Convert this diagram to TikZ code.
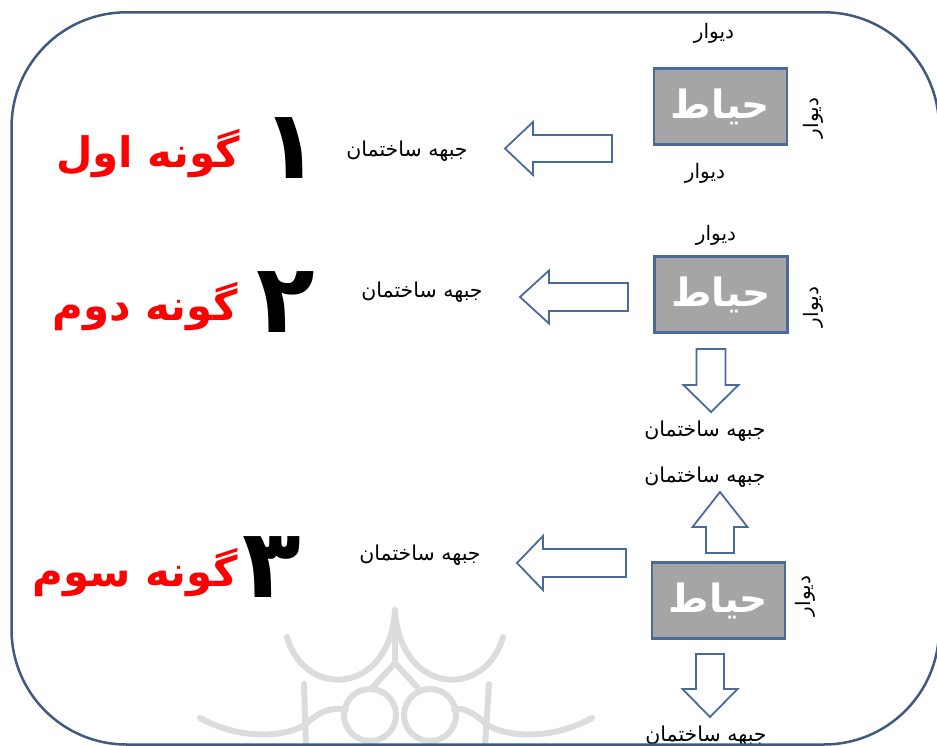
\documentclass[tikz,border=0pt]{standalone}
\usepackage{fontspec}
\setmainfont{DejaVu Sans}
\newfontfamily\fa[Script=Arabic]{DejaVu Sans}
\TeXXeTstate=1
\definecolor{framec}{HTML}{41597F}
\definecolor{edgec}{HTML}{4A6A9B}
\definecolor{yardfill}{HTML}{A5A5A5}
\definecolor{markc}{HTML}{DCDCDC}
\newcommand\rtl[1]{\beginR #1\endR}

\begin{document}
\begin{tikzpicture}[x=1pt,y=-1pt,
  yard/.style={draw=edgec, line width=2.6pt, fill=yardfill, minimum width=133pt,
    minimum height=76pt, inner sep=0pt, text=white,
    font=\fa\bfseries\fontsize{39}{39}\selectfont},
  wall/.style={inner sep=0pt, font=\fa\fontsize{20}{20}\selectfont},
  front/.style={inner sep=0pt, font=\fa\fontsize{20.5}{20.5}\selectfont},
  kind/.style={inner sep=0pt, text=red, font=\fa\bfseries\fontsize{42}{42}\selectfont},
  numeral/.style={inner sep=0pt, font=\fa\bfseries\fontsize{96}{96}\selectfont},
  arrowline/.style={draw=edgec, line width=1.8pt, fill=white, line join=miter},
  markline/.style={draw=markc, line width=6pt, line cap=round},
  pics/blockarrow/.style n args={4}{code={
    % tip at the origin, pointing along +x: length, shaft half width, head half width, head length
    \path[arrowline] (-#1,-#2) -- (-#4,-#2) -- (-#4,-#3) -- (0,0) -- (-#4,#3)
      -- (-#4,#2) -- (-#1,#2) -- cycle;}}]
\useasboundingbox (0,0) rectangle (937,746);

% faint emblem at the bottom
\path[markline] (287,637) .. controls (305,700) and (390,695) .. (395,610);
\path[markline] (503,637) .. controls (485,700) and (400,695) .. (395,610);
\path[markline] (395,612) -- (395,663);
\path[markline] (395,663) -- (372,688);
\path[markline] (395,663) -- (418,688);
\path[markline] (370,715) circle (26);
\path[markline] (430,715) circle (26);
\path[markline] (304,684) -- (306,746);
\path[markline] (489,684) -- (485,746);
\path[markline] (200,718) .. controls (240,740) and (285,738) .. (306,724);
\path[markline] (306,724) .. controls (318,712) and (333,706) .. (346,710);
\path[markline] (592,718) .. controls (552,740) and (507,738) .. (486,724);
\path[markline] (486,724) .. controls (474,712) and (459,706) .. (454,710);

% type 1
\node[yard] (y1) at (720.5,106.5) {\rtl{حیاط}};
\node[wall] (y1n) at (714,33) {\rtl{دیوار}};
\node[wall] (y1s) at (705,173) {\rtl{دیوار}};
\node[wall, rotate=90] (y1e) at (813,118) {\rtl{دیوار}};
\coordinate (a1) at (505,148.5);
\pic[rotate=180] at (a1) {blockarrow={107}{13.5}{26.5}{28}};
\node[front] (f1) at (407,151) {\rtl{جبهه ساختمان}};
\node[numeral] (n1) at (291,148) {۱};
\node[kind] (k1) at (148,154) {\rtl{گونه اول}};

% type 2
\node[yard] (y2) at (721,294.5) {\rtl{حیاط}};
\node[wall] (y2n) at (716,235) {\rtl{دیوار}};
\node[wall, rotate=90] (y2e) at (813,307) {\rtl{دیوار}};
\coordinate (a2) at (520,297);
\pic[rotate=180] at (a2) {blockarrow={108}{14}{26.5}{29}};
\coordinate (d2) at (711,412);
\pic[rotate=-90] at (d2) {blockarrow={63}{14.5}{27.5}{27}};
\node[front] (f2) at (422,292) {\rtl{جبهه ساختمان}};
\node[front] (f2s) at (705,431) {\rtl{جبهه ساختمان}};
\node[numeral] (n2) at (286,302) {۲};
\node[kind] (k2) at (145,307) {\rtl{گونه دوم}};

% type 3
\node[yard] (y3) at (718.5,600.5) {\rtl{حیاط}};
\node[wall, rotate=90] (y3e) at (805,596) {\rtl{دیوار}};
\node[front] (f3n) at (705,477) {\rtl{جبهه ساختمان}};
\coordinate (u3) at (720,492);
\pic[rotate=90] at (u3) {blockarrow={61}{14}{27.5}{35}};
\coordinate (d3) at (710,717);
\pic[rotate=-90] at (d3) {blockarrow={63}{14}{27.5}{28}};
\node[front] (f3s) at (706,736) {\rtl{جبهه ساختمان}};
\coordinate (a3) at (517,563);
\pic[rotate=180] at (a3) {blockarrow={109}{14}{27}{26}};
\node[front] (f3) at (420,555) {\rtl{جبهه ساختمان}};
\node[numeral] (n3) at (272,567) {۳};
\node[kind] (k3) at (135,573) {\rtl{گونه سوم}};

% outer frame
\draw[framec, line width=2.5pt, rounded corners=115pt] (11.5,12.3) rectangle (939,744.5);
\end{tikzpicture}
\end{document}
